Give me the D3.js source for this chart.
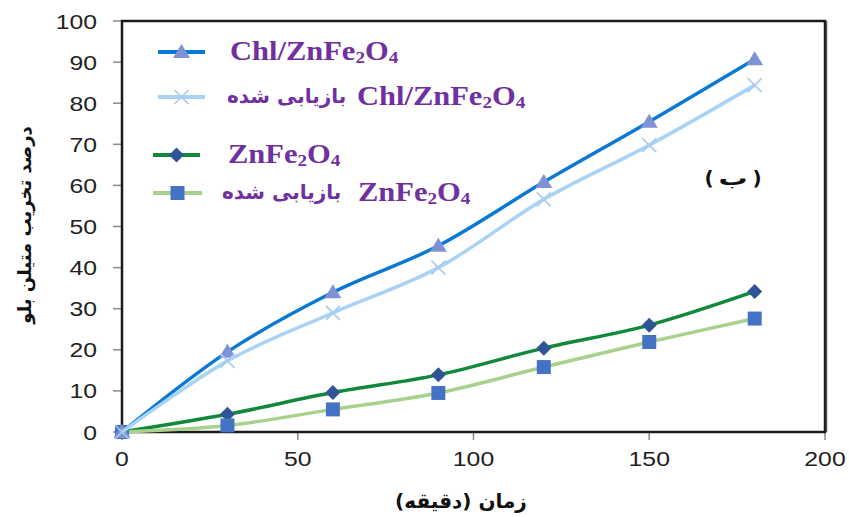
<!DOCTYPE html>
<html lang="fa">
<head>
  <meta charset="UTF-8" />
  <title>Degradation of methylene blue</title>
  <script src="https://d3js.org/d3.v7.min.js"></script>
  <style>
    body { margin: 0; background: #fff; }
    .tick-label { font-family: "Liberation Sans", Arial, sans-serif; font-size: 21px; fill: #222; }
    .formula { font-family: "Liberation Serif", "Times New Roman", serif; font-weight: bold; fill: #7030a0; }
    .fa { font-family: "DejaVu Sans", sans-serif; font-weight: bold; }
  </style>
</head>
<body>
  <svg id="chart" width="849" height="517"></svg>
  <script>
    // time (min) and percent degradation
    const times = [0, 30, 60, 90, 120, 150, 180];
    const chl = [0, 19.5, 34, 45.3, 60.8, 75.5, 90.7];
    const chlRecovered = [0, 17.3, 29, 40, 56.6, 69.8, 84.4];
    const znfe = [0, 4.3, 9.6, 13.9, 20.4, 26, 34.2];
    const znfeRecovered = [0, 1.6, 5.5, 9.5, 15.8, 21.9, 27.6];

    const xTicks = [0, 50, 100, 150, 200];
    const yTicks = [0, 10, 20, 30, 40, 50, 60, 70, 80, 90, 100];

    const series = [
      { name: "znfe", values: znfe, line: "#11883a", marker: "diamond", fill: "#2f5597" },
      { name: "znfeRec", values: znfeRecovered, line: "#a9d18e", marker: "square", fill: "#4472c4" },
      { name: "chl", values: chl, line: "#0b78d6", marker: "triangle", fill: "#7f92d6" },
      { name: "chlRec", values: chlRecovered, line: "#a9d3f5", marker: "cross", fill: "#a9cbed" }
    ];

    const legendItems = [
      { key: "chl", formula: "Chl/ZnFe|2|O|4", fa: null },
      { key: "chlRec", formula: "Chl/ZnFe|2|O|4", fa: "بازیابی شده" },
      { key: "znfe", formula: "ZnFe|2|O|4", fa: null },
      { key: "znfeRec", formula: "ZnFe|2|O|4", fa: "بازیابی شده" }
    ];

    const svg = d3.select("#chart");
    const x = d3.scaleLinear().domain([0, 200]).range([122, 825]);
    const y = d3.scaleLinear().domain([0, 100]).range([432, 21]);
    const stretch = 1.18;

    // ticks
    svg.append("g").selectAll("line").data(yTicks).join("line")
      .attr("x1", 113).attr("x2", 122)
      .attr("y1", d => y(d)).attr("y2", d => y(d))
      .attr("stroke", "#8c8c8c").attr("stroke-width", 1.5);
    svg.append("g").selectAll("line").data(xTicks).join("line")
      .attr("x1", d => x(d)).attr("x2", d => x(d))
      .attr("y1", 432).attr("y2", 440)
      .attr("stroke", "#8c8c8c").attr("stroke-width", 1.5);

    svg.append("g").selectAll("text").data(yTicks).join("text")
      .attr("class", "tick-label")
      .attr("text-anchor", "end")
      .attr("transform", d => `translate(97,${y(d) + 7.5}) scale(${stretch},1)`)
      .text(d => d);
    svg.append("g").selectAll("text").data(xTicks).join("text")
      .attr("class", "tick-label")
      .attr("text-anchor", "middle")
      .attr("transform", d => `translate(${x(d)},466) scale(${stretch},1)`)
      .text(d => d);

    // frame
    svg.append("rect")
      .attr("x", x(0)).attr("y", y(100))
      .attr("width", x(200) - x(0)).attr("height", y(0) - y(100))
      .attr("fill", "none").attr("stroke", "#1a1a1a").attr("stroke-width", 2.5);
    svg.append("line")
      .attr("x1", x(200) + 1.5).attr("x2", x(200) + 1.5)
      .attr("y1", y(100)).attr("y2", y(0))
      .attr("stroke", "#555").attr("stroke-width", 1.5);

    function markerPath(type) {
      if (type === "triangle") return "M0,-8L8.5,6L-8.5,6Z";
      if (type === "square") return "M-7,-7H7V7H-7Z";
      if (type === "diamond") return "M0,-7.5L7.5,0L0,7.5L-7.5,0Z";
      return "M-7,-7L7,7M-7,7L7,-7";
    }

    function drawMarker(g, s, cx, cy) {
      const p = g.append("path")
        .attr("transform", `translate(${cx},${cy})`)
        .attr("d", markerPath(s.marker));
      if (s.marker === "cross") {
        p.attr("fill", "none").attr("stroke", s.fill).attr("stroke-width", 1.6);
      } else {
        p.attr("fill", s.fill);
      }
    }

    const line = d3.line()
      .x((d, i) => x(times[i]))
      .y(d => y(d))
      .curve(d3.curveCatmullRom.alpha(0));

    series.forEach(s => {
      const g = svg.append("g");
      g.append("path")
        .attr("d", line(s.values))
        .attr("fill", "none")
        .attr("stroke", s.line)
        .attr("stroke-width", 3.5);
      s.values.forEach((v, i) => drawMarker(g, s, x(times[i]), y(v)));
    });

    // legend
    const legendRows = [52, 97, 155, 193];
    const legendLineX = [[158, 205], [158, 205], [153, 200], [153, 202]];
    const legendFaX = [null, 227, null, 222];
    const legendFormulaX = [230, 357, 228, 358];

    function addFormula(xPos, yPos, spec) {
      const parts = spec.split("|");
      const t = svg.append("text")
        .attr("class", "formula")
        .attr("font-size", 27)
        .attr("transform", `translate(${xPos},${yPos}) scale(1.13,1)`);
      parts.forEach((p, i) => {
        const sub = i % 2 === 1;
        t.append("tspan")
          .attr("font-size", sub ? 17 : 27)
          .attr("dy", sub ? 3 : (i > 0 ? -3 : 0))
          .text(p);
      });
    }

    legendItems.forEach((item, i) => {
      const s = series.find(d => d.name === item.key);
      const ly = legendRows[i];
      const [x1, x2] = legendLineX[i];
      const g = svg.append("g");
      g.append("line")
        .attr("x1", x1).attr("x2", x2).attr("y1", ly).attr("y2", ly)
        .attr("stroke", s.line).attr("stroke-width", 4);
      drawMarker(g, s, (x1 + x2) / 2, ly);
      if (item.fa) {
        svg.append("text")
          .attr("class", "fa")
          .attr("x", legendFaX[i])
          .attr("y", ly + 6)
          .attr("font-size", 20)
          .attr("fill", "#7030a0")
          .attr("direction", "rtl")
          .attr("text-anchor", "end")
          .text(item.fa);
      }
      addFormula(legendFormulaX[i], ly + 8, item.formula);
    });

    // panel letter, drawn piece by piece so the brackets stay put
    const panel = svg.append("g").attr("class", "fa").attr("font-size", 20).attr("fill", "#111");
    panel.append("text").attr("x", 709).attr("y", 185).attr("text-anchor", "middle").text("(");
    panel.append("text").attr("transform", "translate(733,185) scale(1.45,1)").attr("text-anchor", "middle").text("ب");
    panel.append("text").attr("x", 757).attr("y", 185).attr("text-anchor", "middle").text(")");

    // axis titles
    svg.append("text")
      .attr("class", "fa")
      .attr("font-size", 18)
      .attr("fill", "#111")
      .attr("direction", "rtl")
      .attr("text-anchor", "middle")
      .attr("transform", "translate(31,225) rotate(-90)")
      .text("درصد تخریب متیلن بلو");

    svg.append("text")
      .attr("class", "fa")
      .attr("font-size", 20)
      .attr("fill", "#111")
      .attr("direction", "rtl")
      .attr("text-anchor", "middle")
      .attr("x", 461).attr("y", 508)
      .text("زمان (دقیقه)");
  </script>
</body>
</html>
